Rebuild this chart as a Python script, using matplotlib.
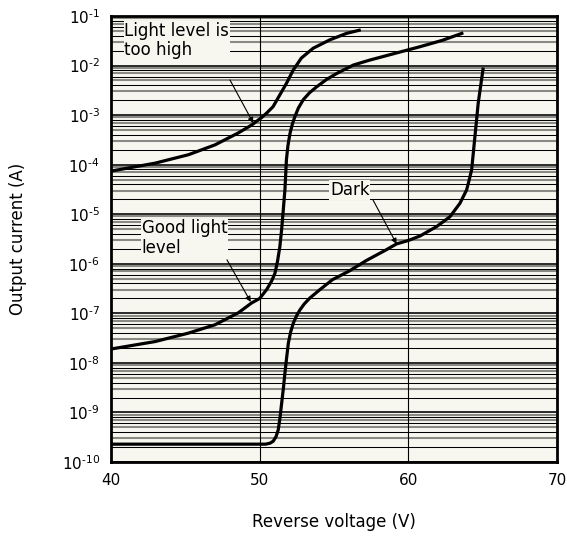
import matplotlib
matplotlib.use('Agg')
import matplotlib.pyplot as plt
import numpy as np

# curve data: reverse voltage (V) and log10 of output current (A)
v_high = [40.0, 42.96, 45.2, 47.0, 48.56, 49.46, 50.13, 50.5, 50.9, 51.36, 51.8, 52.26, 52.8, 53.6,
          54.73, 55.85, 56.8]
i_high = [-4.13, -3.97, -3.80, -3.60, -3.36, -3.20, -3.05, -2.95, -2.83, -2.59, -2.36, -2.09, -1.85,
          -1.65, -1.48, -1.35, -1.28]

v_good = [40.0, 42.96, 45.2, 47.0, 48.56, 49.46, 50.0, 50.47, 50.8, 51.03, 51.2, 51.36, 51.48, 51.59,
          51.7, 51.8, 51.9, 52.04, 52.2, 52.37, 52.6, 52.93, 53.35, 53.83, 54.5, 55.18, 56.3, 57.4,
          59.9, 60.78, 62.3, 63.7]
i_good = [-7.72, -7.57, -7.40, -7.23, -6.99, -6.79, -6.70, -6.52, -6.35, -6.19, -5.95, -5.65, -5.30,
          -4.91, -4.50, -3.90, -3.62, -3.37, -3.18, -3.03, -2.86, -2.69, -2.55, -2.43, -2.28, -2.16,
          -1.99, -1.89, -1.69, -1.62, -1.49, -1.34]

v_dark = [40.0, 50.4, 50.7, 50.91, 51.1, 51.25, 51.37, 51.48, 51.6, 51.7, 51.82, 51.93, 52.08, 52.26,
          52.48, 52.71, 53.0, 53.38, 54.06, 54.9, 56.0, 57.2, 58.5, 59.2, 60.0, 60.78, 61.9, 62.8,
          63.47, 63.92, 64.1, 64.26, 64.48, 64.7, 65.04]
i_dark = [-9.64, -9.64, -9.62, -9.58, -9.49, -9.35, -9.10, -8.81, -8.50, -8.20, -7.88, -7.60, -7.38,
          -7.20, -7.05, -6.93, -6.81, -6.69, -6.52, -6.32, -6.15, -5.93, -5.72, -5.60, -5.53, -5.44,
          -5.25, -5.05, -4.78, -4.51, -4.30, -4.10, -3.43, -2.76, -2.04]

x_ticks = [40, 50, 60, 70]
y_exps = list(range(-10, 0))

bg = '#f7f6ef'

fig = plt.figure(figsize=(5.67, 5.43), dpi=100)
ax = fig.add_axes([111 / 567, 1 - 462 / 543, 446 / 567, 446 / 543])
ax.set_facecolor(bg)
ax.set_yscale('log')
ax.set_xlim(40, 70)
ax.set_ylim(1e-10, 1e-1)

# horizontal grid: decades dark, minors alternating black / grey
for e in y_exps[:-1]:
    for m in range(2, 10):
        y = m * 10.0 ** e
        if m % 2:
            ax.axhline(y, color='#8a8a84', lw=1.5, zorder=1)
        else:
            ax.axhline(y, color='black', lw=0.75, zorder=1)
for e in y_exps:
    ax.axhline(10.0 ** e, color='#2a2a2a', lw=1.4, zorder=1)
for xv in [50, 60]:
    ax.axvline(xv, color='black', lw=0.8, zorder=1)

for v, i in [(v_high, i_high), (v_good, i_good), (v_dark, i_dark)]:
    ax.plot(v, 10.0 ** np.array(i), color='black', lw=2.3, zorder=3,
            solid_capstyle='butt', solid_joinstyle='round')

ax.set_xticks(x_ticks)
ax.set_xticklabels([str(t) for t in x_ticks], fontsize=11)
ax.set_yticks([10.0 ** e for e in y_exps])
ax.set_yticklabels([r'$10^{\text{%d}}$' % e for e in y_exps], fontsize=11)
ax.yaxis.set_minor_locator(matplotlib.ticker.NullLocator())
ax.tick_params(length=0, pad=8)
for s in ax.spines.values():
    s.set_linewidth(2)
    s.set_zorder(5)

box = dict(facecolor=bg, edgecolor='none', pad=0.5)
arrow = dict(arrowstyle='-|>', lw=0.8, color='black', mutation_scale=8, shrinkA=0, shrinkB=0)

ax.text(40.9, 10 ** -1.5, 'Light level is\ntoo high', fontsize=12, va='center', ha='left',
        linespacing=1.1, bbox=box, zorder=4)
ax.annotate('', xy=(49.57, 10 ** -3.16), xytext=(48.0, 10 ** -2.29), arrowprops=arrow, zorder=4)

ax.text(42.06, 10 ** -5.48, 'Good light\nlevel', fontsize=12, va='center', ha='left',
        linespacing=1.1, bbox=box, zorder=4)
ax.annotate('', xy=(49.4, 10 ** -6.77), xytext=(47.8, 10 ** -5.92), arrowprops=arrow, zorder=4)

ax.text(54.73, 10 ** -4.51, 'Dark', fontsize=12, va='center', ha='left', bbox=box, zorder=4)
ax.annotate('', xy=(59.21, 10 ** -5.6), xytext=(57.62, 10 ** -4.71), arrowprops=arrow, zorder=4)

fig.text(18 / 567, 1 - 239 / 543, 'Output current (A)', rotation=90, fontsize=12,
         ha='center', va='center')
fig.text(334 / 567, 1 - 522 / 543, 'Reverse voltage (V)', fontsize=12, ha='center', va='center')

fig.savefig('out.png', dpi=100, facecolor='white')
